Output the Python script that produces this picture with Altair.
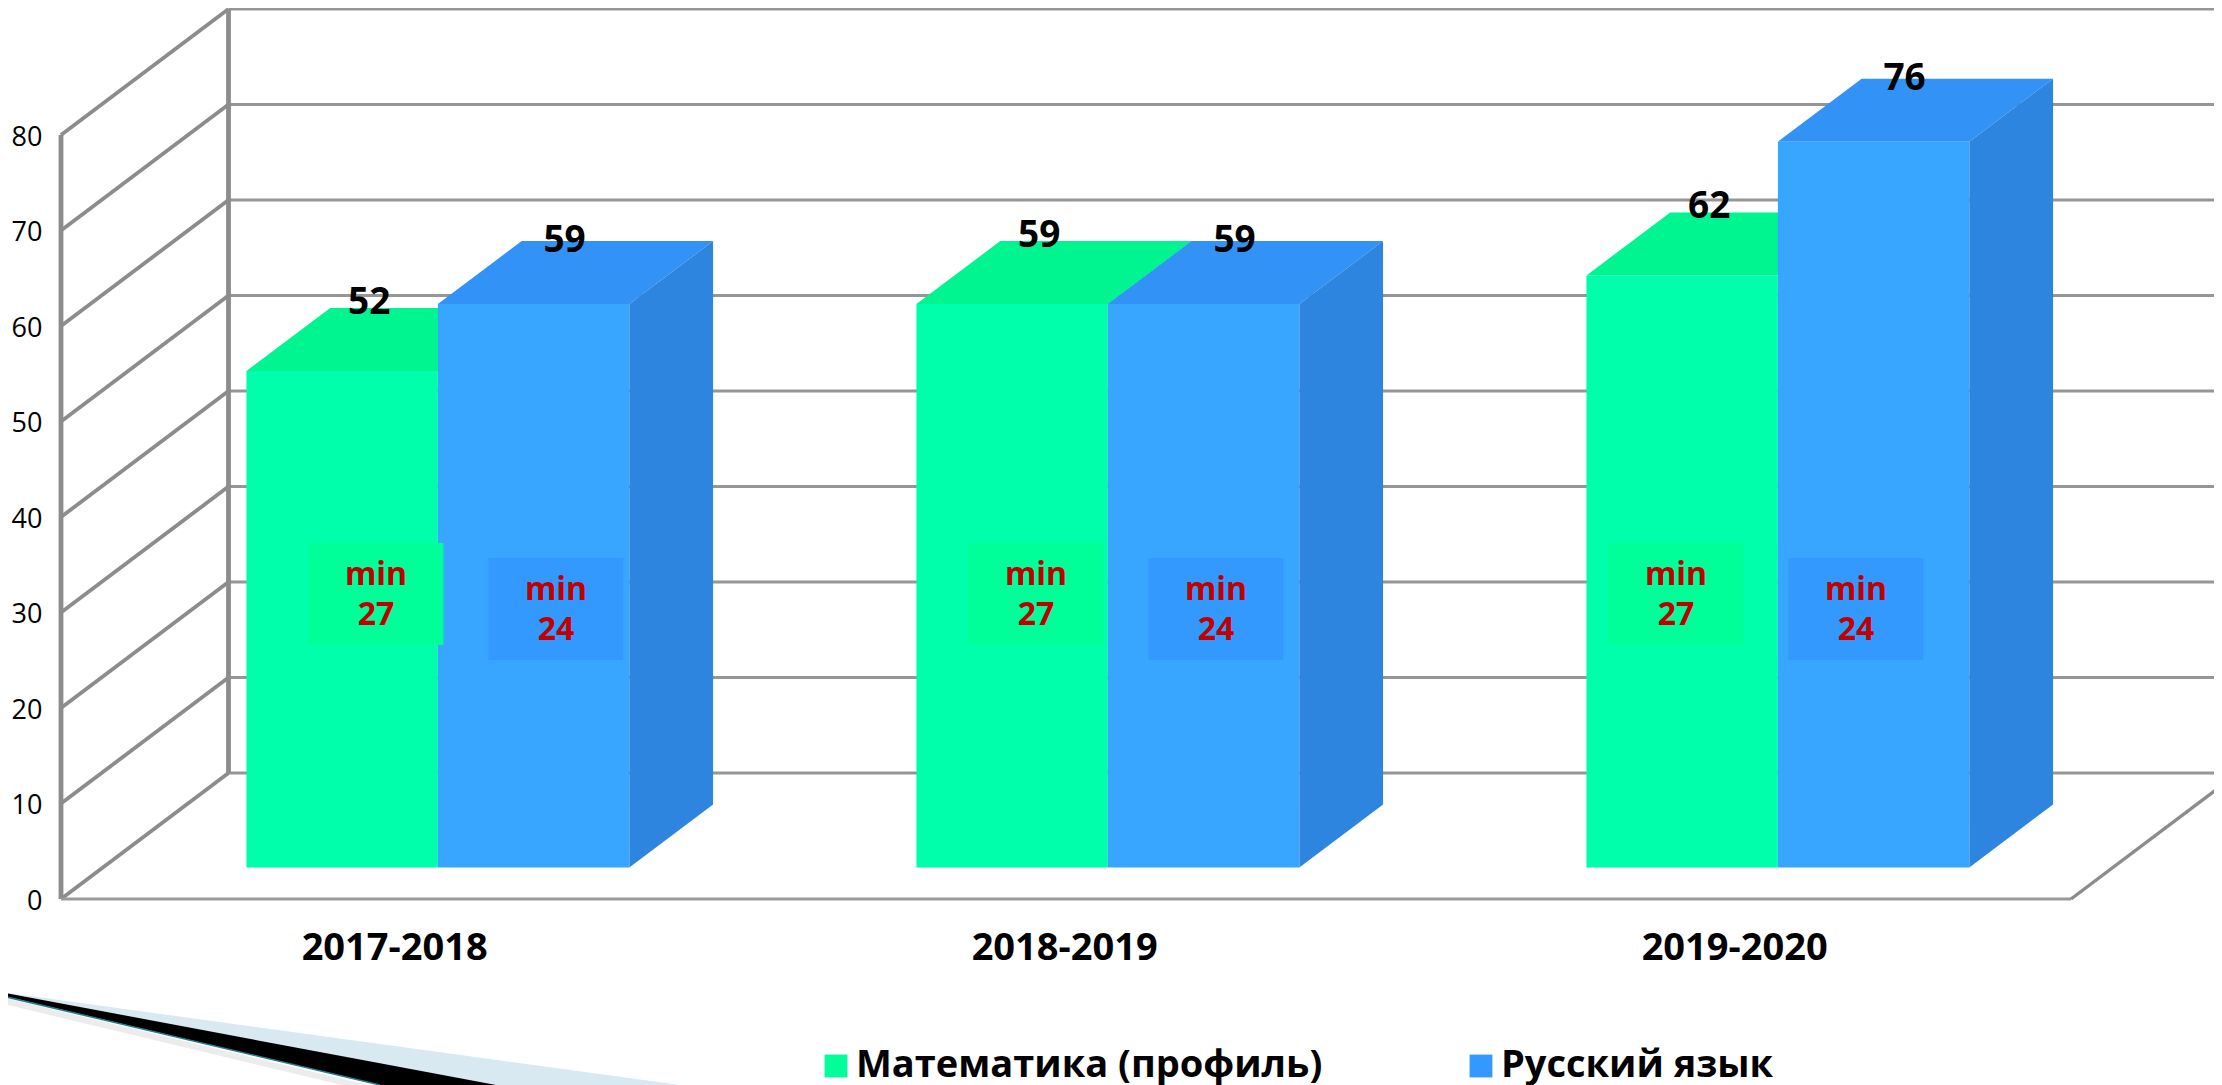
import altair as alt
import pandas as pd

# ---- chart values ----
YEARS = ["2017-2018", "2018-2019", "2019-2020"]
SERIES = ["Математика (профиль)", "Русский язык"]
MATH = [52, 59, 62]
RUS = [59, 59, 76]
MIN_MATH = [27, 27, 27]
MIN_RUS = [24, 24, 24]
Y_TICKS = [0, 10, 20, 30, 40, 50, 60, 70, 80]

# ---- 3-D projection and layout ----
PAGE_W, PAGE_H = 2206, 1077
PX_CAT, PX_VAL = 670.0, 9.55      # pixels per category / per value unit
ORIGIN_X, ORIGIN_Y = 53.0, 891.0  # where (category 0, value 0) falls in the plot
DC, DV = 0.25, 13.19              # full depth of the box in category / value units
BAR_W = 1 / 3.5
D0, D1 = 0.25, 0.75               # depth span of the bars


def cx(px):
    return (px - ORIGIN_X) / PX_CAT


def vy(py):
    return (ORIGIN_Y - py) / PX_VAL


FONT = "Open Sans"
GREY = "#8c8c8c"

x_scale = alt.Scale(domain=[cx(0), cx(PAGE_W)], nice=False, zero=False)
y_scale = alt.Scale(domain=[vy(PAGE_H), vy(0)], nice=False, zero=False)
y_axis = alt.Axis(
    values=Y_TICKS, domain=False, ticks=False, grid=False, title=None, offset=-34, labelPadding=0,
    labelFont=FONT, labelFontSize=27, labelColor="#000000", labelBound=False, labelFlush=False, labelOffset=2,
)


def X(f):
    return alt.X(f, type="quantitative", scale=x_scale, axis=None)


def Y(f):
    return alt.Y(f, type="quantitative", scale=y_scale, axis=y_axis)


STYLES = [
    {"front": "#00FFAA", "top": "#00F590", "side": "#00D98C", "vals": MATH, "idx": 0},
    {"front": "#38A6FF", "top": "#3292F5", "side": "#2D85E0", "vals": RUS, "idx": 1},
]

layers = []

# ---- decorative wedge at the bottom left (slide theme) ----
wedge_blue = pd.DataFrame({
    "x": [cx(-8), cx(372), cx(672)],
    "y": [vy(984), vy(1077 - (672 - 372) * 93 / 680), vy(1077)],
    "y2": [vy(984), vy(1077), vy(1077)],
})
wedge_black = pd.DataFrame({
    "x": [cx(-8), cx(372), cx(488)],
    "y": [vy(984), vy(1077 - 116 * 93 / 496), vy(1077)],
    "y2": [vy(987), vy(1077), vy(1077)],
})
shadow = pd.DataFrame({"x": [cx(-8), cx(372)], "y": [vy(992), vy(1083)]})
teal = pd.DataFrame({"x": [cx(-8), cx(372)], "y": [vy(987.5), vy(1077)]})
layers.append(alt.Chart(shadow).mark_line(color="#d0d0d0", strokeWidth=6, opacity=0.4).encode(x=X("x"), y=Y("y")))
layers.append(alt.Chart(wedge_blue).mark_area(color="#D8E9F1", opacity=1).encode(x=X("x"), y=Y("y"), y2="y2"))
layers.append(alt.Chart(wedge_black).mark_area(color="#000000", opacity=1).encode(x=X("x"), y=Y("y"), y2="y2"))
layers.append(alt.Chart(teal).mark_line(color="#1F7F8F", strokeWidth=1.5).encode(x=X("x"), y=Y("y")))

# ---- walls and floor ----
back_grid = pd.DataFrame({"x": [DC] * len(Y_TICKS), "x2": [3 + DC] * len(Y_TICKS), "y": [t + DV for t in Y_TICKS]})
layers.append(alt.Chart(back_grid).mark_rule(color="#969696", strokeWidth=3).encode(x=X("x"), x2="x2", y=Y("y")))

diag = pd.DataFrame(
    [{"t": t, "x": 0, "y": t} for t in Y_TICKS] + [{"t": t, "x": DC, "y": t + DV} for t in Y_TICKS]
)
layers.append(alt.Chart(diag).mark_line(color=GREY, strokeWidth=3.8).encode(x=X("x"), y=Y("y"), detail="t:N"))

verticals = pd.DataFrame({"x": [0, DC], "y": [0, DV], "y2": [Y_TICKS[-1], Y_TICKS[-1] + DV]})
layers.append(alt.Chart(verticals).mark_rule(color=GREY, strokeWidth=4.8).encode(x=X("x"), y=Y("y"), y2="y2"))

floor_front = pd.DataFrame({"x": [0], "x2": [3], "y": [0]})
layers.append(alt.Chart(floor_front).mark_rule(color="#9a9a9a", strokeWidth=3).encode(x=X("x"), x2="x2", y=Y("y")))
floor_right = pd.DataFrame({"x": [3, 3 + DC], "y": [0, DV]})
layers.append(alt.Chart(floor_right).mark_line(color=GREY, strokeWidth=3.4).encode(x=X("x"), y=Y("y")))

# ---- 3-D bars ----
for st in STYLES:
    tops, sides, fronts = [], [], []
    for i, v in enumerate(st["vals"]):
        left = i + (1 - 2 * BAR_W) / 2 + st["idx"] * BAR_W
        right = left + BAR_W
        for d in (D0, D1):
            tops.append({"b": i, "x": left + d * DC, "x2": right + d * DC, "y": v + d * DV})
            sides.append({"b": i, "x": right + d * DC, "y": d * DV, "y2": v + d * DV})
        fronts.append({"x": left + D0 * DC, "x2": right + D0 * DC, "y": D0 * DV, "y2": v + D0 * DV})
    layers.append(alt.Chart(pd.DataFrame(tops)).mark_area(orient="horizontal", color=st["top"], opacity=1).encode(
        y=Y("y"), x=X("x"), x2="x2", detail="b:N"))
    layers.append(alt.Chart(pd.DataFrame(sides)).mark_area(color=st["side"], opacity=1).encode(
        x=X("x"), y=Y("y"), y2="y2", detail="b:N"))
    layers.append(alt.Chart(pd.DataFrame(fronts)).mark_rect(color=st["front"]).encode(
        x=X("x"), x2="x2", y=Y("y"), y2="y2"))

# ---- "min" boxes (hand-placed annotations on the slide), they also carry the legend ----
MIN_POS_MATH = [cx(368), cx(1028), cx(1668)]
MIN_POS_RUS = [cx(548), cx(1208), cx(1848)]
BOX_W, BOX_H = 0.1007, 5.34
rows = []
for i in range(3):
    rows.append({"series": SERIES[0], "x": MIN_POS_MATH[i], "y": vy(586), "n": str(MIN_MATH[i])})
    rows.append({"series": SERIES[1], "x": MIN_POS_RUS[i], "y": vy(601), "n": str(MIN_RUS[i])})
mins = pd.DataFrame(rows)
mins["x0"] = mins.x - BOX_W
mins["x1"] = mins.x + BOX_W
mins["y0"] = mins.y - BOX_H
mins["y1"] = mins.y + BOX_H
mins["word"] = "min"
mins["y_word"] = mins.y + 19 / PX_VAL
mins["y_num"] = mins.y - 21 / PX_VAL
layers.append(alt.Chart(mins).mark_rect().encode(
    x=X("x0"), x2="x1", y=Y("y0"), y2="y1",
    color=alt.Color("series:N", scale=alt.Scale(domain=SERIES, range=["#00FF99", "#3399FF"]), legend=alt.Legend(
        orient="none", legendX=809, legendY=1039, direction="horizontal", title=None, symbolType="square",
        symbolSize=520, symbolStrokeWidth=0, symbolOpacity=1, labelFont=FONT, labelFontSize=38, padding=0,
        labelFontWeight="bold", labelColor="#000000", labelOffset=1, columnPadding=139, labelLimit=700)),
))
min_text = dict(font=FONT, fontSize=32, fontWeight="bold", color="#C00000")
layers.append(alt.Chart(mins).mark_text(**min_text).encode(x=X("x"), y=Y("y_word"), text="word:N"))
layers.append(alt.Chart(mins).mark_text(**min_text).encode(x=X("x"), y=Y("y_num"), text="n:N"))

# ---- value labels ----
lab = []
for st, (dx, dy) in zip(STYLES, [(27, 68), (31, 63)]):
    for i, v in enumerate(st["vals"]):
        centre = i + (1 - 2 * BAR_W) / 2 + (st["idx"] + 0.5) * BAR_W + D0 * DC
        lab.append({"x": centre + dx / PX_CAT, "y": v + D0 * DV + dy / PX_VAL, "t": str(v)})
layers.append(alt.Chart(pd.DataFrame(lab)).mark_text(font=FONT, fontSize=37, fontWeight="bold", color="#000000").encode(
    x=X("x"), y=Y("y"), text="t:N"))

# ---- category labels ----
cats = pd.DataFrame({"x": [0.498, 1.498, 2.498], "y": [vy(941)] * 3, "t": YEARS})
layers.append(alt.Chart(cats).mark_text(font=FONT, fontSize=38, fontWeight="bold", color="#000000").encode(
    x=X("x"), y=Y("y"), text="t:N"))

chart = alt.layer(*layers).properties(
    width=PAGE_W, height=PAGE_H, padding=0, background="#FFFFFF",
    autosize=alt.AutoSizeParams(type="none"),
).configure_view(stroke=None)

chart.save("out.html", embed_options={"renderer": "svg", "actions": False})
